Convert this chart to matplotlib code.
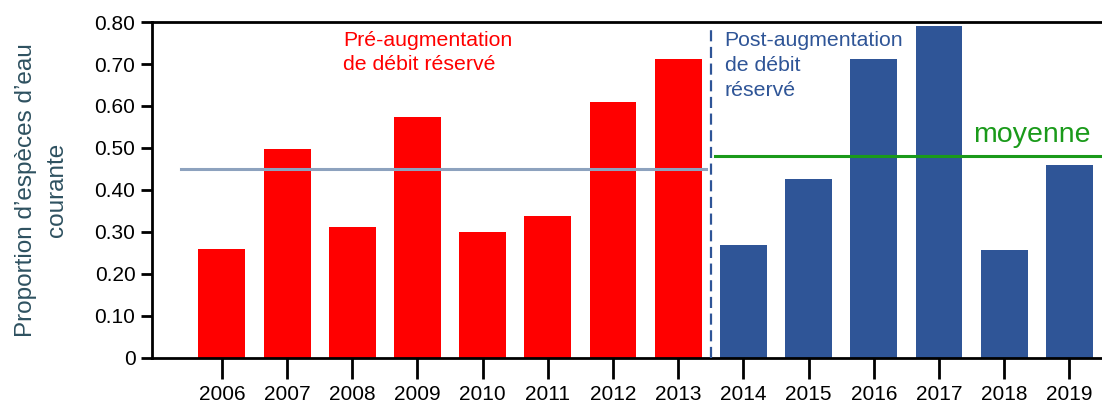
import matplotlib
matplotlib.use("Agg")
import matplotlib.pyplot as plt
import numpy as np

plt.rcParams['font.family'] = ['Liberation Sans', 'DejaVu Sans']

years_pre = ["2006", "2007", "2008", "2009", "2010", "2011", "2012", "2013"]
values_pre = [0.26, 0.497, 0.313, 0.573, 0.30, 0.338, 0.61, 0.712]
years_post = ["2014", "2015", "2016", "2017", "2018", "2019"]
values_post = [0.268, 0.427, 0.712, 0.79, 0.256, 0.46]
mean_pre = 0.45
mean_post = 0.482
yticks = [0, 0.1, 0.2, 0.3, 0.4, 0.5, 0.6, 0.7, 0.8]
ytick_labels = ["0", "0.10", "0.20", "0.30", "0.40", "0.50", "0.60", "0.70", "0.80"]

RED = "#FF0000"
BLUE = "#2F5597"
GREEN = "#1A9A1A"
GREY = "#8DA2BE"

fig = plt.figure(figsize=(11.02, 4.03), dpi=100)
ax = fig.add_axes([0.138, 0.1117, 0.862, 0.8337])

x_pre = np.arange(len(years_pre))
x_post = np.arange(len(years_pre), len(years_pre) + len(years_post))
ax.bar(x_pre, values_pre, width=0.72, color=RED, zorder=2)
ax.bar(x_post, values_post, width=0.72, color=BLUE, zorder=2)

split = len(years_pre) - 0.5
ax.plot([-0.63, split - 0.07], [mean_pre, mean_pre], color=GREY, lw=2.2, zorder=3)
ax.plot([split + 0.06, len(years_pre) + len(years_post) + 1], [mean_post, mean_post],
        color=GREEN, lw=2.2, zorder=3)
ax.plot([split, split], [0, 0.785], color=BLUE, lw=1.6, ls=(0, (5, 2.5)), zorder=3)

ax.text(1.86, 0.778, "Pré-augmentation\nde débit réservé", color=RED, fontsize=15.3,
        ha="left", va="top", linespacing=1.3)
ax.text(split + 0.21, 0.778, "Post-augmentation\nde débit\nréservé", color=BLUE, fontsize=15.3,
        ha="left", va="top", linespacing=1.38)
ax.text(11.53, 0.50, "moyenne", color=GREEN, fontsize=20.5, ha="left", va="bottom")

ax.set_xlim(-1.07, 13.5)
ax.set_ylim(0, 0.8)
ax.set_xticks(np.concatenate([x_pre, x_post]))
ax.set_xticklabels(years_pre + years_post, fontsize=15)
ax.set_yticks(yticks)
ax.set_yticklabels(ytick_labels, fontsize=15)
ax.tick_params(axis="x", direction="out", length=15, width=2, pad=4.5)
ax.tick_params(axis="y", direction="out", length=8, width=2, pad=4)

for s in ["left", "bottom", "top"]:
    ax.spines[s].set_linewidth(2)
ax.spines["right"].set_visible(False)

ax.set_ylabel("Proportion d’espèces d’eau\ncourante", fontsize=17.5, color="#2E5160",
              linespacing=1.55, labelpad=19)

fig.savefig("out.png", dpi=100)
